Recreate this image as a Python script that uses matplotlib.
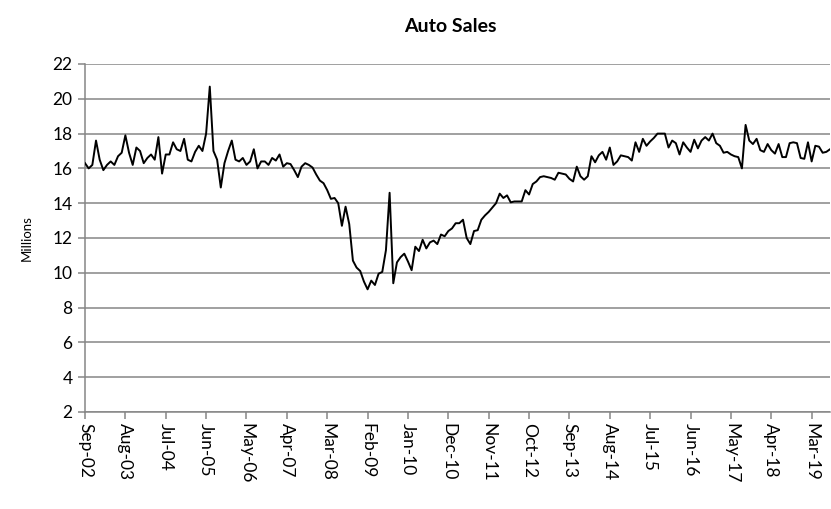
import matplotlib
matplotlib.use("Agg")
import matplotlib.pyplot as plt
import pandas as pd

# monthly light-vehicle sales, SAAR (millions), Sep 2002 onwards
months = pd.date_range("2002-09-01", periods=204, freq="MS")
sales = [
    16.3, 16.0, 16.2, 17.6, 16.5, 15.9, 16.2, 16.4, 16.2, 16.7, 16.9, 17.9,
    16.9, 16.2, 17.2, 17.0, 16.3, 16.6, 16.8, 16.5, 17.8, 15.7, 16.8, 16.8,
    17.5, 17.1, 17.0, 17.7, 16.5, 16.4, 16.95, 17.3, 17.0, 18.0, 20.7, 17.0,
    16.5, 14.9, 16.3, 17.0, 17.6, 16.5, 16.4, 16.6, 16.2, 16.4, 17.1, 16.0,
    16.4, 16.4, 16.2, 16.6, 16.45, 16.8, 16.1, 16.3, 16.25, 15.9, 15.5, 16.1,
    16.3, 16.2, 16.05, 15.65, 15.3, 15.15, 14.75, 14.25, 14.3, 14.0, 12.7, 13.8,
    12.8, 10.7, 10.3, 10.1, 9.5, 9.05, 9.55, 9.3, 9.95, 10.05, 11.3, 14.6,
    9.4, 10.6, 10.9, 11.1, 10.65, 10.15, 11.5, 11.25, 11.9, 11.4, 11.75, 11.85,
    11.65, 12.2, 12.1, 12.4, 12.55, 12.85, 12.85, 13.05, 12.0, 11.65, 12.4, 12.45,
    13.05, 13.3, 13.5, 13.75, 14.0, 14.55, 14.3, 14.45, 14.05, 14.1, 14.1, 14.1,
    14.75, 14.5, 15.1, 15.25, 15.5, 15.55, 15.5, 15.45, 15.35, 15.75, 15.7, 15.65,
    15.4, 15.25, 16.1, 15.55, 15.35, 15.55, 16.7, 16.35, 16.75, 16.95, 16.5, 17.2,
    16.2, 16.4, 16.75, 16.7, 16.65, 16.45, 17.5, 16.95, 17.7, 17.3, 17.55, 17.75,
    18.0, 18.0, 18.0, 17.2, 17.6, 17.45, 16.8, 17.5, 17.2, 16.95, 17.65, 17.15,
    17.6, 17.8, 17.6, 18.0, 17.45, 17.3, 16.9, 16.95, 16.8, 16.7, 16.65, 16.0,
    18.5, 17.6, 17.4, 17.7, 17.05, 16.95, 17.4, 17.05, 16.85, 17.4, 16.65, 16.65,
    17.45, 17.5, 17.45, 16.6, 16.55, 17.5, 16.4, 17.3, 17.25, 16.9, 16.95, 17.1,
]
month_labels = [d.strftime("%b-%y") for d in months]
label_step = 11
y_ticks = list(range(2, 23, 2))

plt.rcParams["font.family"] = ["Lato", "DejaVu Sans"]
GRID = "#868686"

fig = plt.figure(figsize=(8.31, 5.09), dpi=100)
ax = fig.add_axes([85 / 831, 1 - 412 / 509, 745 / 831, 348 / 509])

x = range(len(sales))
ax.plot(x, sales, color="black", lw=1.4, zorder=3)

ax.set_xlim(0, len(sales) - 1)
ax.set_ylim(2, 22)
ax.set_yticks(y_ticks)
ax.set_yticklabels([str(v) for v in y_ticks], fontsize=12.5)
ax.yaxis.grid(True, color=GRID, lw=1.1)
ax.set_axisbelow(True)

tick_pos = list(range(0, len(sales), label_step))
ax.set_xticks(tick_pos)
ax.set_xticklabels([month_labels[i] for i in tick_pos], rotation=-90,
                   fontsize=12.5, va="top", ha="center")

for side in ("top", "right"):
    ax.spines[side].set_visible(False)
for side in ("left", "bottom"):
    ax.spines[side].set_color(GRID)
    ax.spines[side].set_linewidth(1.1)
ax.tick_params(axis="both", colors=GRID, length=5, width=1.1, labelcolor="black")
ax.tick_params(axis="x", pad=3)
ax.tick_params(axis="y", pad=4)

ax.set_ylabel("Millions", fontsize=9.5, labelpad=14)
fig.text(450 / 831, 1 - 26 / 509, "Auto Sales", ha="center", va="center",
         fontsize=14, fontweight="bold")

fig.savefig("out.png", dpi=100, facecolor="white")
